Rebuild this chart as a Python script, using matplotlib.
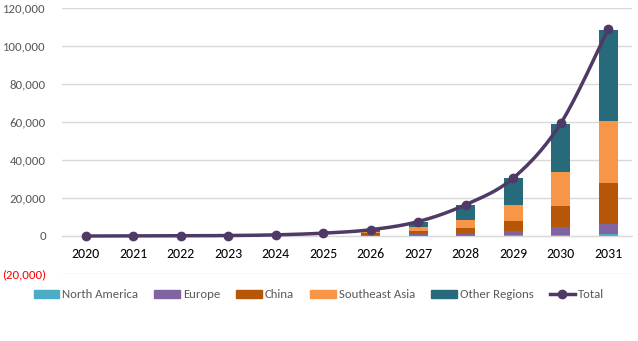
import numpy as np
import matplotlib.pyplot as plt
from matplotlib.lines import Line2D
from matplotlib.patches import Patch
from matplotlib import font_manager

avail = {f.name for f in font_manager.fontManager.ttflist}
fam = ['Carlito'] if 'Carlito' in avail else []
plt.rcParams['font.family'] = fam + ['Liberation Sans', 'DejaVu Sans']
fs = 9.2 if fam else 8.5

years = ['2020', '2021', '2022', '2023', '2024', '2025', '2026', '2027', '2028', '2029', '2030', '2031']
north_america = [0, 0, 0, 0, 0, 0, 50, 100, 200, 300, 400, 800]
europe = [0, 0, 0, 0, 0, 0, 250, 800, 1000, 2300, 4200, 5500]
china = [0, 0, 0, 0, 0, 0, 1100, 1600, 3000, 5300, 11000, 21600]
southeast_asia = [0, 0, 0, 0, 0, 0, 900, 2200, 4400, 8400, 17900, 32600]
other_regions = [0, 0, 0, 0, 0, 0, 800, 2800, 7700, 14100, 25500, 48100]
total = [0, 50, 100, 250, 600, 1500, 3300, 7600, 16500, 30500, 59300, 109000]

colors = ['#4BACC6', '#8064A2', '#B65708', '#F79646', '#276A7C']
names = ['North America', 'Europe', 'China', 'Southeast Asia', 'Other Regions']
line_color = '#4F3A66'
text_color = '#595959'

fig = plt.figure(figsize=(6.38, 3.41), dpi=100)
ax = fig.add_axes([62 / 638, 1 - 274 / 341, 570 / 638, 266 / 341])

x = np.arange(len(years))
bottom = np.zeros(len(years))
for vals, c in zip([north_america, europe, china, southeast_asia, other_regions], colors):
    ax.bar(x, vals, 0.4, bottom=bottom, color=c, zorder=2)
    bottom += np.array(vals)

# smoothed line like excel (catmull-rom through the points)
px = x.astype(float)
py = np.array(total, dtype=float)
sx, sy = [], []
for i in range(len(px) - 1):
    p0 = (px[max(i - 1, 0)], py[max(i - 1, 0)])
    p1 = (px[i], py[i])
    p2 = (px[i + 1], py[i + 1])
    p3 = (px[min(i + 2, len(px) - 1)], py[min(i + 2, len(px) - 1)])
    t = np.linspace(0, 1, 30)
    for k in range(2):
        a = [p0[k], p1[k], p2[k], p3[k]]
        v = 0.5 * ((2 * a[1]) + (-a[0] + a[2]) * t + (2 * a[0] - 5 * a[1] + 4 * a[2] - a[3]) * t ** 2
                   + (-a[0] + 3 * a[1] - 3 * a[2] + a[3]) * t ** 3)
        (sx if k == 0 else sy).extend(v)
ax.plot(sx, sy, color=line_color, lw=2.5, zorder=3, solid_capstyle='round')
ax.plot(px, py, 'o', color=line_color, ms=6, zorder=4)

ax.set_xlim(-0.5, 11.5)
ax.set_ylim(-20000, 120000)
yt = np.arange(-20000, 120001, 20000)
ax.set_yticks(yt)
labels = []
for v in yt:
    labels.append('({:,})'.format(-v) if v < 0 else '{:,}'.format(v))
ax.set_yticklabels(labels, fontsize=fs, color=text_color)
for lab, v in zip(ax.get_yticklabels(), yt):
    if v < 0:
        lab.set_color('red')
ax.set_xticks(x)
ax.set_xticklabels(years, fontsize=fs, color=text_color)
ax.tick_params(length=0)
ax.tick_params(axis='y', pad=11.5)
ax.tick_params(axis='x', pad=8.5)
ax.grid(axis='y', color='#D9D9D9', lw=1, zorder=0)
for s in ['top', 'right', 'left']:
    ax.spines[s].set_visible(False)
ax.spines['bottom'].set_position(('data', 0))
ax.spines['bottom'].set_color('#D9D9D9')

handles = [Patch(color=c, label=n) for c, n in zip(colors, names)]
handles.append(Line2D([0], [0], color=line_color, lw=2.5, marker='o', ms=6, label='Total'))
fig.legend(handles=handles, loc='center', bbox_to_anchor=(0.5, 1 - 295 / 341), ncol=6, frameon=False,
           fontsize=fs, handlelength=2.0, handleheight=0.5, handletextpad=0.25, columnspacing=1.25,
           labelcolor=text_color, borderaxespad=0, borderpad=0)

fig.savefig('out.png', dpi=100)
